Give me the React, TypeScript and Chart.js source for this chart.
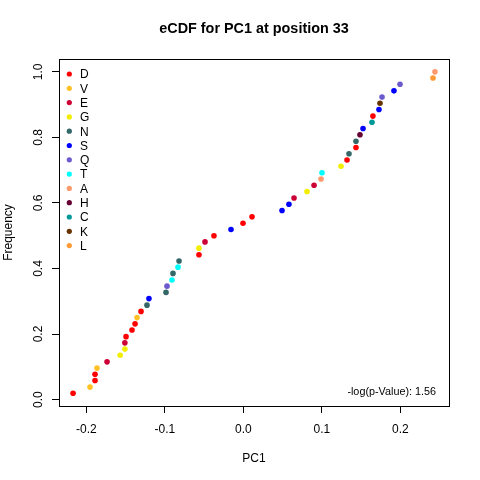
import { useEffect, useRef } from 'react';
import { Chart, registerables } from 'chart.js';

Chart.register(...registerables);

// legend order and colours
const residueNames = ['D', 'V', 'E', 'G', 'N', 'S', 'Q', 'T', 'A', 'H', 'C', 'K', 'L'];
const residueColors = [
    '#FF0000', '#FFC125', '#CD0035', '#F2EE00', '#346767', '#0000FF', '#6A5ACD',
    '#00FFFF', '#FF9A6C', '#660033', '#009999', '#663300', '#FF9933',
];

// one entry per point, sorted by PC1
const pointResidues = [
    'D', 'V', 'D', 'D', 'V', 'E', 'G', 'G', 'E', 'D', 'D', 'D', 'V',
    'D', 'N', 'S', 'N', 'Q', 'T', 'N', 'T', 'N', 'D', 'G', 'E', 'D',
    'S', 'D', 'D', 'S', 'S', 'E', 'G', 'E', 'A', 'T', 'G', 'D', 'N',
    'D', 'N', 'H', 'S', 'C', 'D', 'S', 'K', 'Q', 'S', 'Q', 'L', 'A',
];
const pc1Values = [
    -0.217, -0.1954, -0.189, -0.189, -0.1865, -0.1737, -0.157, -0.151, -0.151, -0.1495, -0.1419, -0.138, -0.1355,
    -0.1304, -0.1228, -0.1203, -0.0986, -0.0973, -0.091, -0.0897, -0.0833, -0.082, -0.0566, -0.0566, -0.0489, -0.0375,
    -0.0158, -0.0005, 0.011, 0.0492, 0.058, 0.0645, 0.081, 0.09, 0.0989, 0.1001, 0.1243, 0.132, 0.1345,
    0.1434, 0.1434, 0.1485, 0.1524, 0.1638, 0.165, 0.1727, 0.174, 0.1766, 0.1918, 0.1995, 0.2415, 0.244,
];
const frequencies = [
    0.019, 0.038, 0.058, 0.077, 0.096, 0.115, 0.135, 0.154, 0.173, 0.192, 0.212, 0.231, 0.25,
    0.269, 0.288, 0.308, 0.327, 0.346, 0.365, 0.385, 0.404, 0.423, 0.442, 0.462, 0.481, 0.5,
    0.519, 0.538, 0.558, 0.577, 0.596, 0.615, 0.635, 0.654, 0.673, 0.692, 0.712, 0.731, 0.75,
    0.769, 0.788, 0.808, 0.827, 0.846, 0.865, 0.885, 0.904, 0.923, 0.942, 0.962, 0.981, 1.0,
];

const xTicks = [-0.2, -0.1, 0, 0.1, 0.2];
const yTicks = [0, 0.2, 0.4, 0.6, 0.8, 1.0];

const chartTitle = 'eCDF for PC1 at position 33';
const xTitle = 'PC1';
const yTitle = 'Frequency';
const pValueText = '-log(p-Value): 1.56';

const FONT = "'Liberation Sans', Arial, sans-serif";

// draws the R-style box, tick labels, titles and legend
const decorations = {
    id: 'decorations',
    afterDraw(chart: Chart) {
        const ctx = chart.ctx;
        const area = chart.chartArea;
        const xs = chart.scales.x;
        const ys = chart.scales.y;
        ctx.save();
        ctx.strokeStyle = '#000';
        ctx.lineWidth = 1;
        ctx.strokeRect(area.left + 0.5, area.top + 0.5, area.right - area.left, area.bottom - area.top);

        ctx.fillStyle = '#000';
        ctx.font = `12px ${FONT}`;
        ctx.textAlign = 'center';
        ctx.textBaseline = 'alphabetic';
        xTicks.forEach(v => {
            ctx.fillText(v.toFixed(1), xs.getPixelForValue(v), 433.3);
        });
        yTicks.forEach(v => {
            ctx.save();
            ctx.translate(42, ys.getPixelForValue(v));
            ctx.rotate(-Math.PI / 2);
            ctx.fillText(v.toFixed(1), 0, 0);
            ctx.restore();
        });

        const midX = (area.left + area.right) / 2;
        const midY = (area.top + area.bottom) / 2;
        ctx.fillText(xTitle, midX, 462.3);
        ctx.save();
        ctx.translate(12, midY);
        ctx.rotate(-Math.PI / 2);
        ctx.fillText(yTitle, 0, 0);
        ctx.restore();

        ctx.font = `bold 14.4px ${FONT}`;
        ctx.fillText(chartTitle, midX, 33.3);

        // legend (top left inside plot)
        ctx.font = `12px ${FONT}`;
        ctx.textAlign = 'left';
        residueNames.forEach((name, i) => {
            const cy = 74 + i * 14.3;
            ctx.fillStyle = residueColors[i];
            ctx.beginPath();
            ctx.arc(69.3, cy, 2.6, 0, Math.PI * 2);
            ctx.fill();
            ctx.fillStyle = '#000';
            ctx.fillText(name, 80, cy + 4.3);
        });

        ctx.font = `10.8px ${FONT}`;
        ctx.textAlign = 'right';
        ctx.fillText(pValueText, 436, 395);
        ctx.restore();
    },
};

export default function App() {
    const canvasRef = useRef<HTMLCanvasElement>(null);

    useEffect(() => {
        if (!canvasRef.current) return;
        const colorOf = (r: string) => residueColors[residueNames.indexOf(r)];

        const chart = new Chart(canvasRef.current, {
            type: 'scatter',
            data: {
                datasets: [{
                    label: 'PC1',
                    data: pc1Values.map((x, i) => ({ x, y: frequencies[i] })),
                    pointBackgroundColor: pointResidues.map(colorOf),
                    pointBorderWidth: 0,
                    pointRadius: 2.8,
                }],
            },
            options: {
                responsive: false,
                animation: false,
                events: [],
                layout: { padding: { left: 0, top: 59, right: 31, bottom: 0 } },
                plugins: {
                    legend: { display: false },
                    title: { display: false },
                    tooltip: { enabled: false },
                },
                scales: {
                    x: {
                        type: 'linear',
                        min: -0.2349,
                        max: 0.2619,
                        border: { display: false },
                        grid: { drawOnChartArea: false, drawTicks: true, tickLength: 7, color: '#000' },
                        ticks: { display: false },
                        afterBuildTicks: (s: any) => { s.ticks = xTicks.map(value => ({ value })); },
                        afterFit: (s: any) => { s.height = 74; },
                    },
                    y: {
                        type: 'linear',
                        min: -0.0197,
                        max: 1.0392,
                        border: { display: false },
                        grid: { drawOnChartArea: false, drawTicks: true, tickLength: 7, color: '#000' },
                        ticks: { display: false },
                        afterBuildTicks: (s: any) => { s.ticks = yTicks.map(value => ({ value })); },
                        afterFit: (s: any) => { s.width = 59; },
                    },
                },
            },
            plugins: [decorations],
        });

        return () => chart.destroy();
    }, []);

    return (
        <div style={{ position: 'absolute', left: 0, top: 0, width: 480, height: 480, background: '#fff' }}>
            <canvas ref={canvasRef} width={480} height={480}></canvas>
        </div>
    );
}
